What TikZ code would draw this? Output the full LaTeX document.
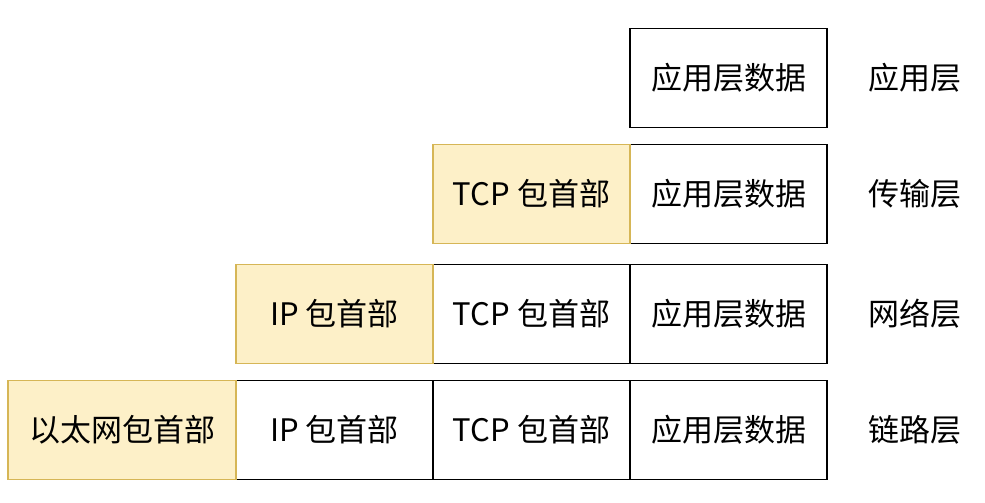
\documentclass[tikz,border=0pt]{standalone}
\usepackage{fontspec}
\setmainfont{Noto Sans CJK SC}
\definecolor{hdrfill}{RGB}{253,240,200}
\definecolor{hdrline}{RGB}{214,182,86}
\begin{document}
\begin{tikzpicture}[x=1pt,y=-1pt,
    cell/.style={draw,line width=1.8pt,rectangle,minimum width=197pt,minimum height=99pt,inner sep=0pt,font=\fontsize{31}{33}\selectfont},
    hdr/.style={cell,line width=1.4pt,draw=hdrline,fill=hdrfill},
    layer/.style={font=\fontsize{31}{33}\selectfont}]
    \useasboundingbox (0,0) rectangle (985,503);
    \foreach \r/\y/\name in {1/78/应用层,2/194/传输层,3/314/网络层,4/430/链路层}{
      \node[cell] (app\r) at (728.5,\y) {应用层数据};
      \node[layer] (lay\r) at (915,\y) {\name};
    }
    \node[hdr] (tcp2) at (531.5,194) {TCP 包首部};
    \foreach \r/\y in {3/314,4/430}
      \node[cell] (tcp\r) at (531.5,\y) {TCP 包首部};
    \node[hdr] (ip3) at (334.5,314) {IP 包首部};
    \node[cell] (ip4) at (334.5,430) {IP 包首部};
    \node[hdr,minimum width=228pt] (eth4) at (122,430) {以太网包首部};
\end{tikzpicture}
\end{document}
